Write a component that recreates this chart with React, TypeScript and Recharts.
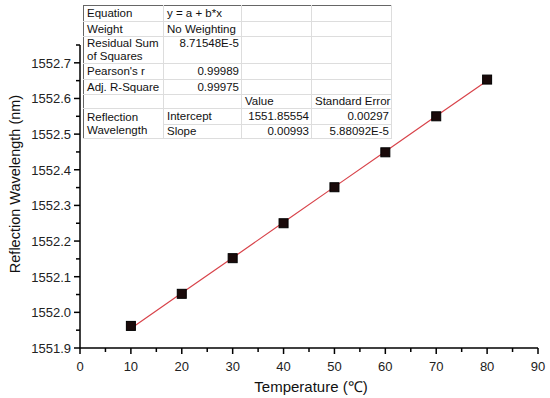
import { ComposedChart, Line, Scatter, XAxis, YAxis, Label } from "recharts";

// measured points
const temps = [10, 20, 30, 40, 50, 60, 70, 80];
const wavelengths = [1551.962, 1552.052, 1552.152, 1552.25, 1552.351, 1552.449, 1552.55, 1552.653];
// linear fit y = 1551.85554 + 0.00993 x, read at each temperature
const fitValues = [1551.955, 1552.054, 1552.153, 1552.253, 1552.352, 1552.451, 1552.551, 1552.65];

const xTicks = [0, 5, 10, 15, 20, 25, 30, 35, 40, 45, 50, 55, 60, 65, 70, 75, 80, 85, 90];
const yTicks = [
  1551.9, 1551.95, 1552.0, 1552.05, 1552.1, 1552.15, 1552.2, 1552.25, 1552.3, 1552.35,
  1552.4, 1552.45, 1552.5, 1552.55, 1552.6, 1552.65, 1552.7, 1552.75,
];

const tableRows = [
  ["Equation", "y = a + b*x", "", ""],
  ["Weight", "No Weighting", "", ""],
  ["Residual Sum of Squares", "8.71548E-5", "", ""],
  ["Pearson's r", "0.99989", "", ""],
  ["Adj. R-Square", "0.99975", "", ""],
  ["", "", "Value", "Standard Error"],
];
const fitRows = [
  ["Intercept", "1551.85554", "0.00297"],
  ["Slope", "0.00993", "5.88092E-5"],
];

const data = temps.map((t, i) => ({ t, y: wavelengths[i], fit: fitValues[i] }));

const FONT = "Arial, 'Liberation Sans', sans-serif";

function XTick(props: any) {
  const { x, y, payload } = props;
  const major = payload.value % 10 === 0;
  return (
    <g>
      <line x1={x} x2={x} y1={y} y2={y + (major ? 6 : 4)} stroke="#000" strokeWidth={1.5} />
      {major && (
        <text x={x} y={y + 23} textAnchor="middle" fontSize={13} fontFamily={FONT} fill="#222">
          {payload.value}
        </text>
      )}
    </g>
  );
}

function YTick(props: any) {
  const { x, y, payload } = props;
  const major = Math.round(payload.value * 100) % 10 === 0;
  return (
    <g>
      <line x1={x - (major ? 6 : 4)} x2={x} y1={y} y2={y} stroke="#000" strokeWidth={1.5} />
      {major && (
        <text x={x - 9} y={y + 5} textAnchor="end" fontSize={13} fontFamily={FONT} fill="#222">
          {payload.value.toFixed(1)}
        </text>
      )}
    </g>
  );
}

function Square(props: any) {
  const { cx, cy } = props;
  return <rect x={cx - 4.5} y={cy - 4.5} width={9} height={9} fill="#1a0a0a" stroke="#000" strokeWidth={1} />;
}

const cell: React.CSSProperties = {
  borderRight: "1px solid #ddd",
  borderBottom: "1px solid #ddd",
  padding: "0 2px 0 3px",
  lineHeight: "13px",
  verticalAlign: "middle",
  whiteSpace: "nowrap",
  overflow: "hidden",
};

function FitTable() {
  const rowH = [16, 15, 27, 16, 15, 14, 16, 14];
  return (
    <table
      style={{
        position: "absolute",
        left: 83,
        top: 5,
        width: 308,
        borderCollapse: "collapse",
        border: "1px solid #666",
        background: "#fff",
        fontFamily: FONT,
        fontSize: 11.5,
        color: "#111",
        tableLayout: "fixed",
      }}
    >
      <colgroup>
        <col style={{ width: 80 }} />
        <col style={{ width: 78 }} />
        <col style={{ width: 70 }} />
        <col style={{ width: 80 }} />
      </colgroup>
      <tbody>
        {tableRows.map((r, i) => (
          <tr key={i} style={{ height: rowH[i] }}>
            <td style={{ ...cell, whiteSpace: i === 2 ? "normal" : "nowrap" }}>{r[0]}</td>
            <td style={{ ...cell, textAlign: i < 2 ? "left" : "right", verticalAlign: i === 2 ? "top" : "middle" }}>
              {r[1]}
            </td>
            <td style={cell}>{r[2]}</td>
            <td style={cell}>{r[3]}</td>
          </tr>
        ))}
        {fitRows.map((r, i) => (
          <tr key={"f" + i} style={{ height: rowH[6 + i] }}>
            {i === 0 && (
              <td rowSpan={2} style={{ ...cell, whiteSpace: "normal" }}>
                Reflection Wavelength
              </td>
            )}
            <td style={cell}>{r[0]}</td>
            <td style={{ ...cell, textAlign: "right" }}>{r[1]}</td>
            <td style={{ ...cell, textAlign: "right" }}>{r[2]}</td>
          </tr>
        ))}
      </tbody>
    </table>
  );
}

export default function App() {
  return (
    <div style={{ position: "absolute", left: 0, top: 0, width: 550, height: 398, background: "#fff" }}>
      <ComposedChart width={550} height={398} data={data} margin={{ top: 45, right: 12, bottom: 20, left: 0 }}>
        <XAxis
          dataKey="t"
          type="number"
          height={30}
          domain={[0, 90]}
          ticks={xTicks}
          interval={0}
          tickLine={false}
          tickSize={0}
          tickMargin={0}
          axisLine={{ stroke: "#000", strokeWidth: 1.5 }}
          tick={<XTick />}
        >
          <Label
            content={({ viewBox }: any) => (
              <text
                x={viewBox.x + viewBox.width / 2 + 2}
                y={viewBox.y + 44}
                textAnchor="middle"
                fontSize={15}
                fontFamily={FONT}
                fill="#111"
              >
                Temperature (℃)
              </text>
            )}
          />
        </XAxis>
        <YAxis
          type="number"
          width={80}
          domain={[1551.9, 1552.75]}
          ticks={yTicks}
          interval={0}
          tickLine={false}
          tickSize={0}
          tickMargin={0}
          axisLine={{ stroke: "#000", strokeWidth: 1.5 }}
          tick={<YTick />}
        >
          <Label
            content={({ viewBox }: any) => {
              const cx = viewBox.x + 15;
              const cy = viewBox.y + 139;
              return (
                <text
                  x={cx}
                  y={cy}
                  transform={`rotate(-90 ${cx} ${cy})`}
                  textAnchor="middle"
                  dominantBaseline="central"
                  fontSize={14.5}
                  fontFamily={FONT}
                  fill="#111"
                >
                  Reflection Wavelength (nm)
                </text>
              );
            }}
          />
        </YAxis>
        <Line dataKey="fit" stroke="#d8434a" strokeWidth={1.2} dot={false} isAnimationActive={false} />
        <Scatter dataKey="y" shape={<Square />} isAnimationActive={false} />
      </ComposedChart>
      <FitTable />
    </div>
  );
}
